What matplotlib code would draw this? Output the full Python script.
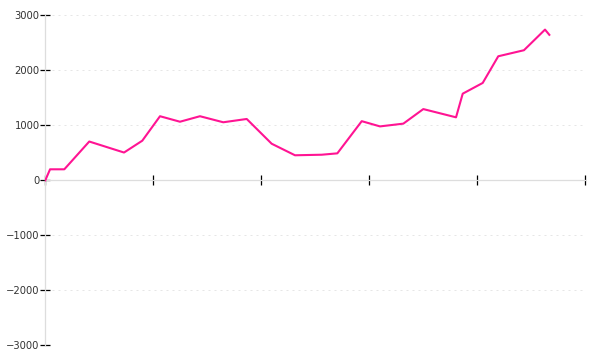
import matplotlib
matplotlib.use("Agg")
import matplotlib.pyplot as plt

# x in tick units (one tick = one period), y = cumulative value
xs = [0, 0.044, 0.176, 0.407, 0.729, 0.898, 1.062, 1.247, 1.432, 1.648,
      1.865, 2.096, 2.312, 2.559, 2.704, 2.930, 3.099, 3.315, 3.500, 3.803,
      3.865, 4.050, 4.194, 4.432, 4.627, 4.667]
ys = [0, 200, 200, 705, 505, 720, 1165, 1065, 1165, 1055,
      1115, 665, 455, 465, 490, 1075, 980, 1030, 1295, 1145,
      1575, 1770, 2255, 2365, 2740, 2645]
yticks = [-3000, -2000, -1000, 0, 1000, 2000, 3000]
xticks = [0, 1, 2, 3, 4, 5]

fig = plt.figure(figsize=(6, 3.6), dpi=100)
ax = fig.add_axes([45.3 / 600, 1 - 345.3 / 360, 540 / 600, 330 / 360])

ax.set_xlim(0, 5)
ax.set_ylim(-3000, 3000)

# dotted horizontal grid
for v in yticks:
    if v == 0:
        continue
    ax.axhline(v, xmin=0.012, xmax=0.996, color="#e6e6e6", lw=0.72,
               linestyle=(0, (2, 4)), zorder=0)

ax.plot(xs, ys, color="#ff1493", lw=1.5, zorder=3)

for s in ["top", "right"]:
    ax.spines[s].set_visible(False)
ax.spines["left"].set_color("#dddddd")
ax.spines["left"].set_linewidth(0.9)
ax.spines["bottom"].set_position(("data", 0))
ax.spines["bottom"].set_color("#dddddd")
ax.spines["bottom"].set_linewidth(0.9)

ax.set_yticks(yticks)
ax.set_xticks(xticks)
ax.set_xticklabels([])
ax.tick_params(axis="y", direction="inout", length=7, width=0.9, color="black",
               labelsize=7.2, labelcolor="#333333", pad=0.5)
ax.tick_params(axis="x", direction="inout", length=7, width=0.9, color="black")

fig.savefig("out.png", dpi=100)
